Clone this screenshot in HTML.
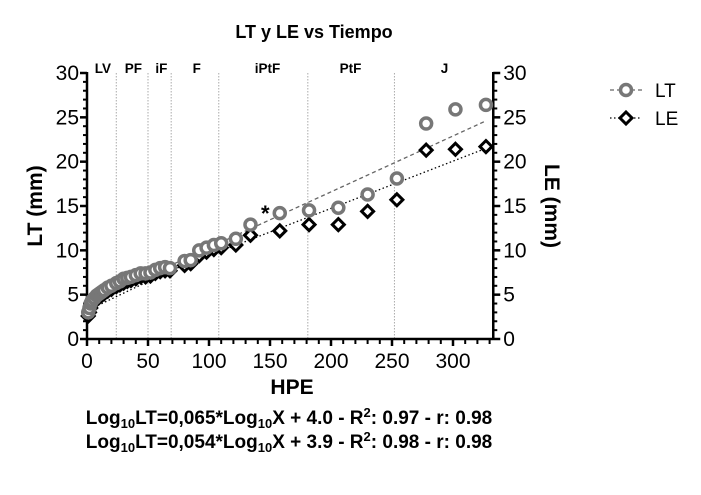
<!DOCTYPE html>
<html><head><meta charset="utf-8"><style>
body{margin:0;background:#fff;}
svg{display:block;font-family:"Liberation Sans",Arial,sans-serif;}
</style></head><body>
<svg id="chart" width="701" height="495" viewBox="0 0 701 495">
<text x="314" y="38" text-anchor="middle" font-size="18" font-weight="bold">LT y LE vs Tiempo</text>
<g id="phases"></g>
<g id="axes"></g>
<g id="fits"></g>
<g id="marks"></g>
<text x="261" y="221" font-size="22" font-weight="bold">*</text>
<text transform="translate(42,206) rotate(-90)" text-anchor="middle" font-size="21" font-weight="bold">LT (mm)</text>
<text transform="translate(545,206) rotate(90)" text-anchor="middle" font-size="21" font-weight="bold">LE (mm)</text>
<text x="292" y="394" text-anchor="middle" font-size="21" font-weight="bold">HPE</text>
<text x="289" y="424" text-anchor="middle" font-size="19" font-weight="bold">Log<tspan font-size="13" dy="4">10</tspan><tspan dy="-4">LT=0,065*Log</tspan><tspan font-size="13" dy="4">10</tspan><tspan dy="-4">X + 4.0 - R</tspan><tspan font-size="13" dy="-7">2</tspan><tspan dy="7">: 0.97 - r: 0.98</tspan></text>
<text x="289" y="448" text-anchor="middle" font-size="19" font-weight="bold">Log<tspan font-size="13" dy="4">10</tspan><tspan dy="-4">LT=0,054*Log</tspan><tspan font-size="13" dy="4">10</tspan><tspan dy="-4">X + 3.9 - R</tspan><tspan font-size="13" dy="-7">2</tspan><tspan dy="7">: 0.98 - r: 0.98</tspan></text>
<g>
<g>
<line x1="610" y1="90" x2="642" y2="90" stroke="#666" stroke-width="1.3" stroke-dasharray="4,3"/>
<circle cx="626" cy="90" r="5.5" fill="#fff" stroke="#777" stroke-width="3.5"/>
<text x="655" y="97" font-size="19">LT</text></g>
<g>
<line x1="610" y1="118" x2="642" y2="118" stroke="#000" stroke-width="1.3" stroke-dasharray="1.5,2.5"/>
<path d="M626,112 L632,118 L626,124 L620,118 Z" fill="#fff" stroke="#000" stroke-width="3"/>
<text x="655" y="125" font-size="19">LE</text></g>
</g>
</svg>
<script>
const ltX=[1,2,3,4,6,8,10,12,14,17,20,24,27,30,33,36,40,44,48,52,56,60,64,68,80,85,92,98,104,110,122,134,158,182,206,230,254,278,302,327];
const ltY=[3,3.5,4,4.3,4.6,4.9,5.1,5.3,5.5,5.8,6,6.3,6.5,6.8,6.9,7,7.2,7.4,7.4,7.5,7.8,8,8.1,8,8.8,8.9,10,10.3,10.6,10.8,11.3,12.9,14.2,14.5,14.8,16.3,18.1,24.3,25.9,26.4];
const leX=[1,2,3,4,6,8,10,12,14,17,20,24,27,30,33,36,40,44,48,52,56,60,64,68,80,85,92,98,104,110,122,134,158,182,206,230,254,278,302,327];
const leY=[2.6,3,3.5,3.9,4.2,4.5,4.7,4.9,5.1,5.4,5.6,5.9,6.1,6.3,6.5,6.6,6.8,7,7,7.1,7.4,7.6,7.7,7.7,8.3,8.5,9.4,9.8,10.1,10.3,10.6,11.7,12.2,12.9,12.9,14.4,15.7,21.3,21.4,21.7];
const phasePos=[24,50,69,108,181,252];
const phaseLabels=["LV","PF","iF","F","iPtF","PtF","J"];
const phaseLabelX=[13,38,61,90,148,216,293];
const xTicks=[0,50,100,150,200,250,300];
const yTicks=[0,5,10,15,20,25,30];
const fitLT=[[0,3.6],[70,8.4],[327,24.6]];
const fitLE=[[0,3.2],[70,7.8],[327,21.5]];
const NS="http://www.w3.org/2000/svg";
const X0=87,XS=(453-87)/300,Y0=339,YS=(339-73)/30;
const sx=v=>X0+v*XS, sy=v=>Y0-v*YS;
function mk(t,a,p){const e=document.createElementNS(NS,t);for(const k in a)e.setAttribute(k,a[k]);p.appendChild(e);return e;}
const ph=document.getElementById('phases');
phasePos.forEach(v=>{const l=mk('line',{x1:sx(v),x2:sx(v),y1:73,y2:339,stroke:'#aaa','stroke-width':1,'stroke-dasharray':'1.5,1.5'},ph);

});
phaseLabels.forEach((s,i)=>{const t=mk('text',{x:sx(phaseLabelX[i]),y:73,'text-anchor':'middle','font-size':13.5,'font-weight':'bold'},ph);t.textContent=s;

});
const ax=document.getElementById('axes');
const xa=mk('line',{x1:X0,x2:sx(333),y1:Y0,y2:Y0,stroke:'#000','stroke-width':2.5},ax);


const ya=mk('line',{x1:X0,x2:X0,y1:sy(30)-1,y2:Y0+1,stroke:'#000','stroke-width':2.5},ax);


const yb=mk('line',{x1:sx(333),x2:sx(333),y1:sy(30)-1,y2:Y0+1,stroke:'#000','stroke-width':2.5},ax);


for(let v=0;v<=330;v+=10){const big=v%50==0;mk('line',{x1:sx(v),x2:sx(v),y1:Y0,y2:Y0+(big?7:5),stroke:'#000','stroke-width':big?2.5:2},ax);}
for(let v=0;v<=30;v++){const big=v%5==0;mk('line',{x1:X0,x2:X0-(big?7:4),y1:sy(v),y2:sy(v),stroke:'#000','stroke-width':big?2.5:2},ax);
mk('line',{x1:sx(333),x2:sx(333)+(big?7:4),y1:sy(v),y2:sy(v),stroke:'#000','stroke-width':big?2.5:2},ax);}
xTicks.forEach(v=>{const t=mk('text',{x:sx(v),y:368,'text-anchor':'middle','font-size':21},ax);t.textContent=v;

});
yTicks.forEach(v=>{const t=mk('text',{x:X0-8,y:sy(v)+7,'text-anchor':'end','font-size':21},ax);t.textContent=v;


const r=mk('text',{x:sx(333)+10,y:sy(v)+7,'text-anchor':'start','font-size':21},ax);r.textContent=v;

});
const fg=document.getElementById('fits');
const f1=mk('polyline',{points:fitLT.map(p=>sx(p[0])+','+sy(p[1])).join(' '),fill:'none',stroke:'#666','stroke-width':1.3,'stroke-dasharray':'4,3'},fg);


const f2=mk('polyline',{points:fitLE.map(p=>sx(p[0])+','+sy(p[1])).join(' '),fill:'none',stroke:'#000','stroke-width':1.3,'stroke-dasharray':'1.5,2.5'},fg);


const mg=document.getElementById('marks');
leX.forEach((x,i)=>{const cx=sx(x),cy=sy(leY[i]);
const d=mk('path',{d:`M${cx},${cy-6} L${cx+6},${cy} L${cx},${cy+6} L${cx-6},${cy} Z`,fill:'#fff',stroke:'#000','stroke-width':3},mg);

});
ltX.forEach((x,i)=>{const c=mk('circle',{cx:sx(x),cy:sy(ltY[i]),r:5.5,fill:'#fff',stroke:'#777','stroke-width':3.5},mg);

});
</script>
</body></html>
